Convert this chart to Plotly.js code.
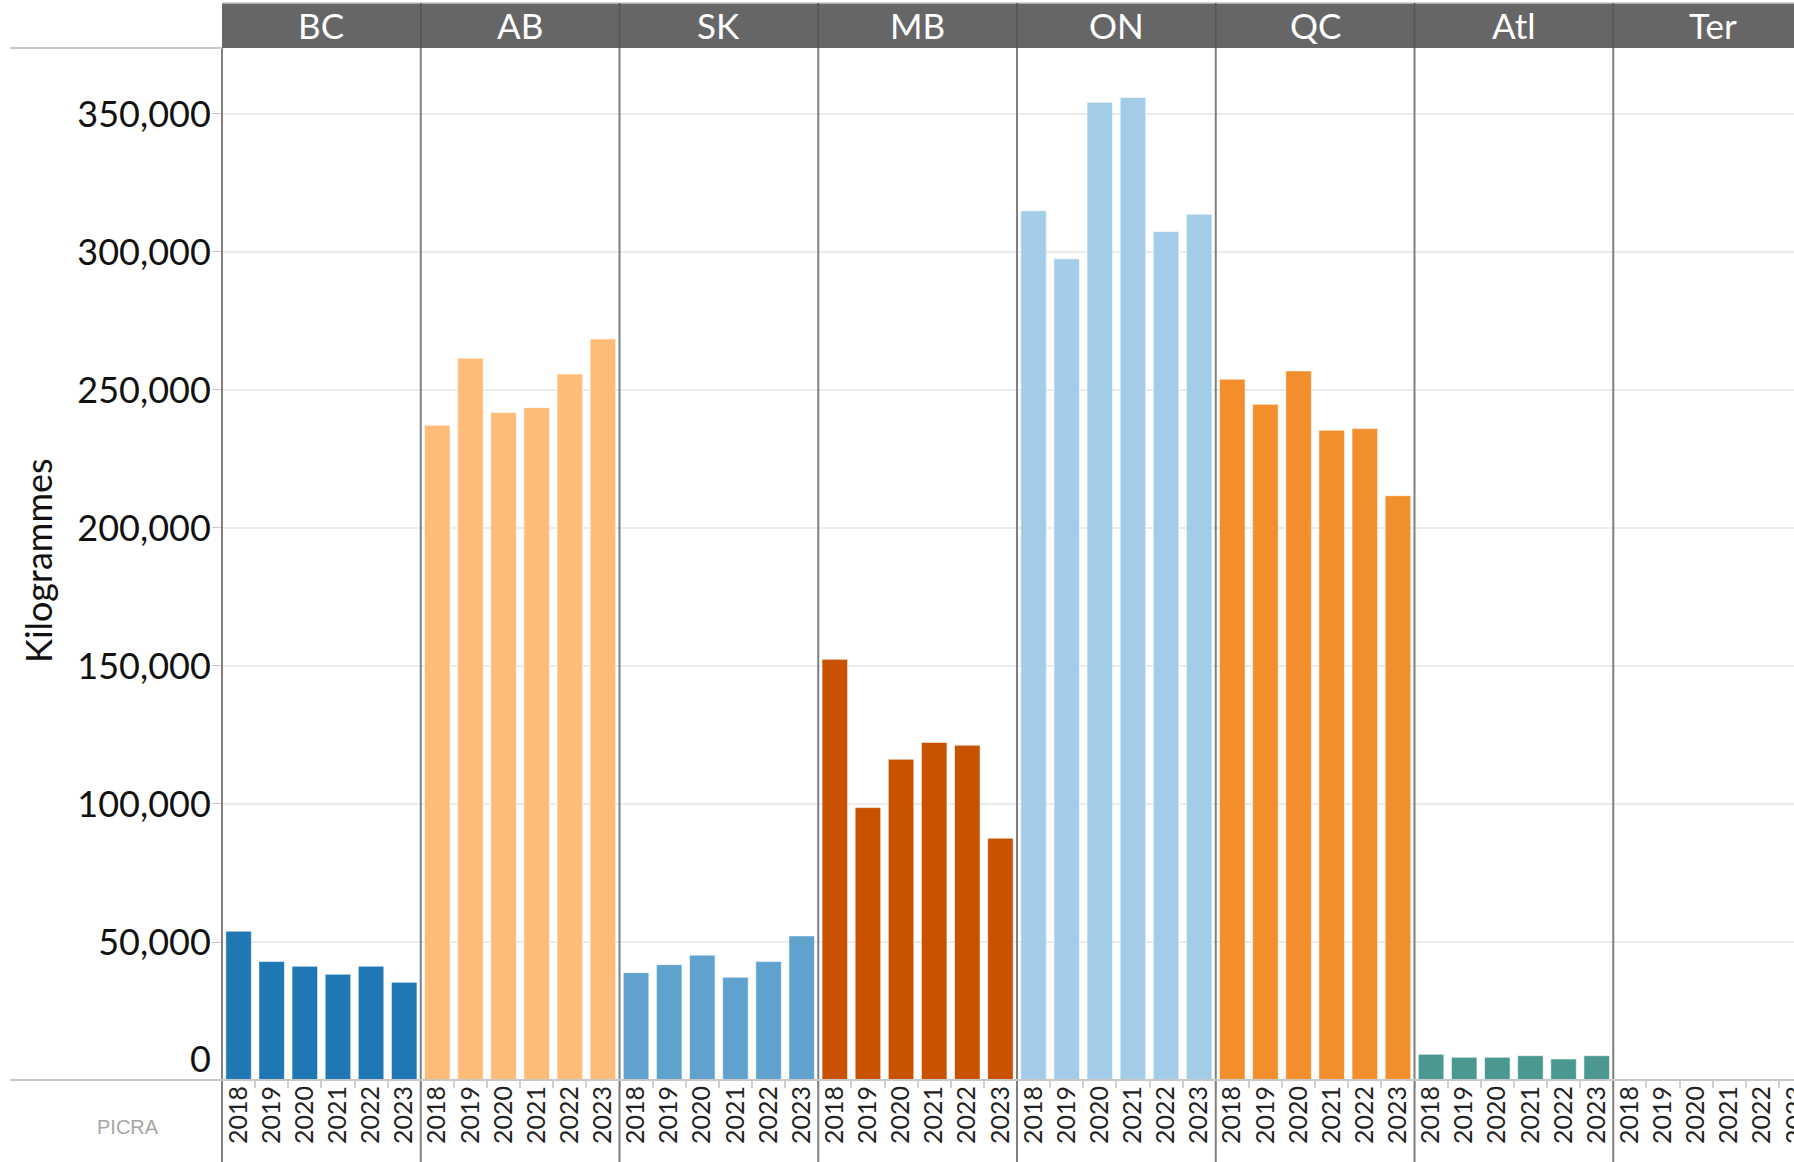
<!DOCTYPE html>
<html>
<head>
<meta charset="utf-8">
<script src="https://cdn.plot.ly/plotly-3.0.1.min.js"></script>
<style>
html,body{margin:0;padding:0;background:#fff;overflow:hidden;}
#chart{width:1830px;height:1162px;}
</style>
</head>
<body>
<div id="chart"></div>
<script>
// ---- data ----
var years = ['2018', '2019', '2020', '2021', '2022', '2023'];
var regions = ['BC', 'AB', 'SK', 'MB', 'ON', 'QC', 'Atl', 'Ter'];
var bc  = [53900, 42900, 41200, 38300, 41200, 35400];
var ab  = [237200, 261500, 241800, 243600, 255800, 268500];
var sk  = [38900, 41800, 45200, 37200, 42900, 52200];
var mb  = [152400, 98700, 116200, 122300, 121300, 87600];
var on  = [314900, 297500, 354200, 356000, 307400, 313700];
var qc  = [253900, 244800, 256900, 235400, 236000, 211700];
var atl = [9300, 8200, 8200, 8800, 7600, 8800];
var ter = [0, 0, 0, 0, 0, 0];
var yTicks = [0, 50000, 100000, 150000, 200000, 250000, 300000, 350000];
var colors = ['#1f77b4', '#ffbb78', '#5fa2ce', '#c85200', '#a3cce9', '#f28e2b', '#4a9890', '#c8d0d9'];

var series = [bc, ab, sk, mb, on, qc, atl, ter];
var n = regions.length;

var traces = [];
var layout = {
  width: 1830, height: 1162,
  margin: {l: 222, r: 18, t: 48, b: 82, pad: 0},
  paper_bgcolor: '#fff', plot_bgcolor: '#fff',
  showlegend: false,
  bargap: 0.23,
  font: {family: 'Lato, sans-serif', color: '#222'},
  yaxis: {
    range: [0, 373900],
    tickvals: yTicks,
    ticktext: yTicks.map(function (v) { return v === 0 ? '' : v.toLocaleString('en-US'); }),
    showgrid: true, gridcolor: '#ebebeb', gridwidth: 1.5,
    zeroline: false, showline: false,
    ticks: 'outside', ticklen: 9, tickcolor: '#c8c8c8', tickwidth: 1,
    ticklabelstandoff: -6,
    tickfont: {family: 'Lato, sans-serif', size: 36, color: '#111'},
    anchor: 'x', automargin: false
  },
  shapes: [],
  annotations: []
};

var TOP = 1.0436, BOT = -0.0795, LEFT = -0.1333;

for (var i = 0; i < n; i++) {
  var xa = i === 0 ? 'x' : 'x' + (i + 1);
  var key = i === 0 ? 'xaxis' : 'xaxis' + (i + 1);
  traces.push({
    type: 'bar', x: years, y: series[i], xaxis: xa, yaxis: 'y',
    marker: {color: colors[i], line: {color: 'rgba(255,255,255,0.55)', width: 1}},
    hoverinfo: 'x+y'
  });
  layout[key] = {
    domain: [i / n, (i + 1) / n],
    anchor: 'y', type: 'category',
    categoryarray: years, categoryorder: 'array',
    tickangle: -90,
    tickfont: {family: 'Lato, sans-serif', size: 25, color: '#222'},
    ticks: 'outside', tickson: 'boundaries', ticklen: 7, tickcolor: '#d0d0d0', tickwidth: 1.5,
    showgrid: false, zeroline: false, showline: false, automargin: false
  };
  layout.annotations.push({
    xref: 'paper', yref: 'paper', x: (i + 0.5) / n, y: (1 + TOP) / 2,
    xanchor: 'center', yanchor: 'middle', showarrow: false, yshift: 1,
    text: regions[i], font: {family: 'Lato, sans-serif', size: 35, color: '#ffffff'}
  });
}

// zero label sits just above the baseline
layout.annotations.push({
  xref: 'paper', yref: 'y', x: 0, y: yTicks[0], xanchor: 'right', yanchor: 'middle',
  xshift: -9, yshift: 22, showarrow: false, text: String(yTicks[0]),
  font: {family: 'Lato, sans-serif', size: 36, color: '#111'}
});

// header band
layout.shapes.push({type: 'rect', xref: 'paper', yref: 'paper', x0: 0, x1: 1, y0: 1, y1: TOP,
  fillcolor: '#666666', line: {width: 0}, layer: 'above'});
layout.shapes.push({type: 'line', xref: 'paper', yref: 'paper', x0: 0, x1: 1, y0: TOP, y1: TOP,
  line: {color: '#c8c8c8', width: 1.5}, layer: 'above'});
for (var j = 1; j < n; j++) {
  layout.shapes.push({type: 'line', xref: 'paper', yref: 'paper', x0: j / n, x1: j / n, y0: 1, y1: TOP,
    line: {color: '#555555', width: 1.5}, layer: 'above'});
}
// panel dividers
for (var k = 0; k <= n; k++) {
  layout.shapes.push({type: 'line', xref: 'paper', yref: 'paper', x0: k / n, x1: k / n, y0: BOT, y1: 1,
    line: {color: '#7f7f7f', width: 2}, layer: 'above'});
}
// baseline and top rule on the left
layout.shapes.push({type: 'line', xref: 'paper', yref: 'paper', x0: LEFT, x1: 1, y0: 0, y1: 0,
  line: {color: '#c8c8c8', width: 2}, layer: 'above'});
layout.shapes.push({type: 'line', xref: 'paper', yref: 'paper', x0: LEFT, x1: 0, y0: 1, y1: 1,
  line: {color: '#c8c8c8', width: 2}, layer: 'above'});

// y title
layout.annotations.push({
  xref: 'paper', yref: 'paper', x: -0.1157, y: 0.503, xanchor: 'center', yanchor: 'middle',
  showarrow: false, textangle: -90, text: 'Kilogrammes',
  font: {family: 'Lato, sans-serif', size: 36, color: '#111'}
});
// source tag
layout.annotations.push({
  xref: 'paper', yref: 'paper', x: -0.0591, y: -0.0455, xanchor: 'center', yanchor: 'middle',
  showarrow: false, text: 'PICRA',
  font: {family: 'Liberation Sans, Arial, sans-serif', size: 20, color: '#a6a6a6'}
});

Plotly.newPlot('chart', traces, layout, {displayModeBar: false, responsive: false});
</script>
</body>
</html>
